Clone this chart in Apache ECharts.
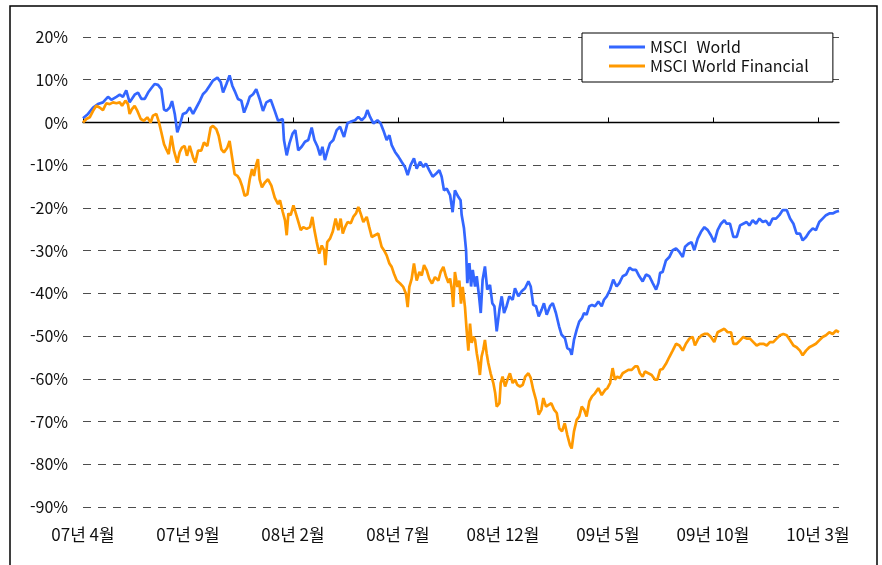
<!DOCTYPE html>
<html lang="ko">
<head>
    <meta charset="UTF-8">
    <title>MSCI World vs MSCI World Financial</title>
    <style>
        html, body { margin: 0; padding: 0; background: #fff; }
        #chart { width: 882px; height: 565px; }
    </style>
</head>
<body>
<div id="chart"></div>

<script type="text/javascript" src="https://cdn.jsdelivr.net/npm/echarts@6/dist/echarts.min.js"></script>
<script>
    // x = months since 2007-04
    var xTickValues = [0, 5, 10, 15, 20, 25, 30, 35];
    var xTickLabels = ['07년 4월', '07년 9월', '08년 2월', '08년 7월', '08년 12월', '09년 5월', '09년 10월', '10년 3월'];

    var worldT = [0.00,0.24,0.48,0.71,0.95,1.19,1.35,1.59,1.75,1.90,2.06,2.22,2.46,2.62,2.78,2.94,3.10,3.25,3.41,3.57,3.73,3.86,3.97,4.13,4.24,4.37,4.49,4.60,4.76,4.92,5.08,5.24,5.40,5.56,5.71,5.87,6.03,6.19,6.40,6.56,6.67,6.83,6.98,7.11,7.22,7.38,7.54,7.67,7.83,7.94,8.10,8.25,8.41,8.57,8.73,8.94,9.13,9.29,
        9.38,9.51,9.57,9.70,9.83,9.98,10.11,10.25,10.41,10.57,10.73,10.89,11.02,11.17,11.29,11.40,11.52,11.63,11.76,11.92,12.08,12.24,12.43,12.59,12.75,12.95,13.11,13.27,13.43,13.54,13.67,13.83,14.02,14.17,14.30,14.46,14.59,14.70,14.86,15.02,15.17,15.33,15.46,15.60,15.76,15.89,16.05,16.21,16.33,16.49,16.65,16.81,16.97,17.08,17.19,17.32,17.48,17.60,17.71,17.87,17.98,
        18.03,18.14,18.24,18.30,18.40,18.48,18.56,18.67,18.75,18.86,18.94,19.03,19.14,19.25,19.38,19.49,19.59,19.70,19.83,19.94,20.05,20.17,20.30,20.46,20.57,20.73,20.89,21.05,21.21,21.32,21.44,21.57,21.70,21.84,21.95,22.08,22.24,22.37,22.52,22.67,22.79,22.95,23.06,23.19,23.27,23.38,23.51,23.63,23.76,23.86,23.98,24.11,24.24,24.38,24.54,24.70,24.81,24.94,25.10,25.25,25.41,25.54,25.70,25.86,26.02,26.17,26.33,26.49,26.65,26.81,26.97,27.13,27.29,27.40,27.48,
        27.60,27.76,27.92,28.08,28.24,28.40,28.56,28.67,28.83,28.98,29.11,29.27,29.43,29.59,29.75,29.90,30.06,30.22,30.38,30.54,30.65,30.81,30.97,31.13,31.29,31.44,31.60,31.73,31.89,32.05,32.21,32.37,32.52,32.68,32.84,33.00,33.16,33.32,33.51,33.67,33.83,33.98,34.14,34.27,34.43,34.59,34.75,34.90,35.06,35.22,35.38,35.54,35.70,35.86,36.00];
    var worldV = [1.0,2.0,3.5,4.3,4.7,6.0,5.3,6.0,6.5,6.0,7.5,4.7,6.5,7.0,5.5,5.5,7.0,8.0,9.0,8.8,7.8,3.0,2.7,3.5,5.0,2.0,-2.3,-0.8,2.0,2.3,3.5,2.0,3.5,5.0,6.6,7.4,8.6,9.8,10.5,9.4,7.0,9.0,11.0,8.6,7.4,5.5,5.1,2.3,4.3,6.0,6.6,7.8,5.5,2.7,4.7,5.3,2.7,0.4,
        0.5,0.8,-4.1,-7.7,-4.9,-2.6,-1.8,-6.5,-5.7,-4.5,-4.1,-1.2,-4.1,-5.7,-7.7,-5.7,-8.8,-6.9,-4.9,-4.1,-1.8,-1.0,-3.4,-0.2,0.2,0.5,1.3,0.5,1.3,2.9,1.3,-0.2,0.5,-0.2,-1.8,-4.1,-3.0,-5.3,-6.9,-8.0,-9.2,-10.4,-12.3,-10.0,-8.4,-10.8,-9.2,-10.4,-9.6,-11.2,-12.7,-12.0,-11.2,-12.7,-15.9,-15.5,-17.0,-21.0,-15.9,-17.4,-18.2,
        -21.6,-24.7,-29.8,-37.6,-32.9,-38.4,-34.5,-38.4,-36.0,-40.7,-44.6,-36.8,-33.7,-39.1,-38.0,-42.3,-43.0,-48.9,-43.8,-40.7,-44.6,-43.0,-40.7,-41.5,-38.8,-40.7,-39.5,-38.8,-37.2,-38.4,-42.7,-43.0,-45.4,-43.8,-42.3,-45.0,-43.0,-42.3,-44.6,-47.7,-49.7,-50.5,-52.8,-53.2,-54.4,-50.9,-48.5,-46.6,-45.8,-44.6,-45.0,-43.0,-42.7,-43.0,-41.9,-43.0,-41.5,-40.7,-39.1,-36.8,-38.4,-37.6,-36.0,-35.6,-34.0,-34.5,-34.5,-36.0,-37.2,-35.6,-36.0,-37.6,-39.1,-37.6,-35.2,
        -35.0,-32.3,-31.5,-29.9,-29.5,-30.3,-31.5,-29.1,-28.4,-28.0,-29.9,-27.2,-25.6,-24.5,-25.2,-26.4,-28.0,-25.2,-23.7,-22.9,-23.7,-23.7,-26.8,-26.8,-24.1,-23.7,-23.3,-24.1,-22.9,-23.7,-22.5,-23.3,-23.0,-24.1,-22.5,-22.5,-21.7,-20.5,-20.5,-22.5,-23.7,-26.0,-26.0,-27.6,-26.8,-25.6,-24.8,-25.2,-23.3,-22.5,-21.7,-21.3,-21.3,-20.9,-20.7];

    var finT = [0.00,0.16,0.32,0.48,0.63,0.79,0.95,1.11,1.27,1.43,1.59,1.75,1.86,2.02,2.14,2.22,2.33,2.46,2.59,2.75,2.90,3.06,3.22,3.33,3.49,3.62,3.73,3.86,3.97,4.08,4.21,4.33,4.49,4.60,4.71,4.84,4.95,5.08,5.24,5.35,5.48,5.63,5.76,5.92,6.08,6.19,6.35,6.46,6.59,6.71,6.87,6.98,7.10,7.22,7.35,7.46,7.57,7.70,7.83,7.94,8.05,8.14,8.25,8.33,8.41,8.52,8.65,8.81,8.97,9.13,9.29,
        9.38,9.51,9.62,9.70,9.78,9.89,10.02,10.10,10.21,10.37,10.49,10.65,10.81,10.92,11.02,11.13,11.25,11.37,11.48,11.54,11.63,11.76,11.89,12.03,12.16,12.27,12.37,12.48,12.60,12.75,12.87,13.00,13.11,13.22,13.35,13.51,13.63,13.75,13.90,14.06,14.22,14.33,14.46,14.59,14.70,14.81,14.94,15.10,15.25,15.38,15.46,15.54,15.65,15.76,15.89,16.02,16.13,16.24,16.37,16.49,16.62,16.76,16.92,17.03,17.16,17.27,17.40,17.48,17.56,17.63,17.71,17.83,17.92,18.00,18.08,18.19,18.27,18.35,18.43,
        18.51,18.59,18.67,18.75,18.83,18.90,18.98,19.06,19.14,19.22,19.30,19.41,19.54,19.63,19.70,19.83,19.89,19.98,20.10,20.21,20.33,20.46,20.57,20.68,20.81,20.94,21.06,21.21,21.32,21.44,21.57,21.70,21.83,21.92,22.05,22.17,22.30,22.43,22.56,22.68,22.81,22.94,23.06,23.19,23.27,23.38,23.51,23.63,23.75,23.86,23.98,24.11,24.24,24.38,24.54,24.70,24.86,24.97,25.10,25.22,25.33,25.44,25.57,25.70,25.83,25.97,26.13,26.29,26.41,26.52,26.65,26.76,26.92,27.08,27.24,27.35,27.48,
        27.60,27.76,27.92,28.08,28.24,28.40,28.56,28.71,28.87,29.03,29.14,29.30,29.46,29.59,29.75,29.90,30.06,30.22,30.38,30.54,30.70,30.86,30.97,31.13,31.29,31.44,31.60,31.76,31.92,32.08,32.24,32.40,32.56,32.71,32.87,33.03,33.19,33.35,33.51,33.67,33.83,33.98,34.14,34.27,34.43,34.59,34.75,34.90,35.06,35.22,35.38,35.54,35.70,35.86,36.00];
    var finV = [0.0,0.8,1.2,2.7,3.9,3.5,2.9,4.5,4.3,4.7,4.5,4.7,3.9,5.1,4.3,2.0,3.1,3.9,2.7,0.8,0.4,1.2,0.0,1.6,2.0,0.0,-2.3,-5.1,-6.3,-7.4,-3.1,-6.6,-9.4,-7.0,-5.9,-5.5,-7.8,-5.5,-8.2,-9.4,-6.6,-6.6,-4.7,-5.5,-1.2,-0.8,-1.6,-3.1,-6.3,-7.0,-5.9,-4.3,-8.2,-12.1,-12.5,-13.3,-14.8,-17.2,-16.8,-13.3,-10.9,-12.5,-9.8,-8.6,-13.3,-15.2,-14.1,-13.3,-14.8,-17.6,-19.1,
        -18.2,-20.9,-22.9,-26.4,-21.3,-21.7,-19.4,-19.0,-22.5,-25.2,-24.5,-24.9,-24.5,-22.1,-25.2,-28.0,-30.7,-28.8,-29.9,-33.4,-28.0,-27.2,-25.6,-22.5,-25.2,-22.5,-26.0,-24.5,-23.3,-23.6,-22.1,-21.3,-19.8,-21.3,-23.3,-22.1,-24.5,-26.8,-26.4,-26.0,-29.1,-29.9,-31.1,-33.0,-33.8,-35.4,-37.0,-37.7,-38.5,-40.1,-43.2,-38.5,-36.6,-33.0,-37.0,-35.0,-35.8,-33.4,-34.6,-36.6,-37.7,-36.2,-37.0,-35.0,-33.8,-35.8,-37.5,-36.5,-38.9,-43.2,-35.0,-38.5,-37.0,-42.4,-38.5,-43.2,-48.7,-53.4,-47.1,
        -51.6,-50.1,-50.9,-54.0,-56.3,-59.1,-54.8,-53.2,-50.9,-54.0,-56.3,-58.7,-61.0,-63.4,-66.5,-65.7,-61.0,-59.5,-61.8,-60.2,-58.7,-61.0,-60.2,-61.4,-61.8,-61.4,-59.5,-58.7,-59.8,-62.6,-64.9,-68.4,-67.2,-64.5,-66.5,-66.1,-65.7,-67.2,-68.0,-71.6,-72.3,-70.4,-73.1,-75.5,-76.3,-72.3,-69.6,-68.8,-66.5,-67.2,-68.8,-65.3,-64.1,-63.4,-62.2,-63.8,-62.6,-62.2,-61.0,-57.5,-60.2,-59.5,-59.8,-58.7,-58.3,-57.9,-57.9,-57.1,-57.1,-58.7,-59.5,-58.3,-58.7,-59.1,-60.2,-60.2,-57.9,
        -57.7,-56.5,-54.9,-53.4,-51.8,-52.2,-53.4,-51.8,-50.6,-50.2,-52.2,-50.6,-49.8,-49.5,-49.5,-50.2,-51.4,-49.1,-48.7,-48.3,-49.1,-49.1,-51.8,-51.8,-51.0,-50.2,-50.6,-50.6,-51.4,-52.2,-51.8,-51.8,-52.2,-51.4,-51.4,-50.6,-49.8,-49.5,-49.8,-51.0,-52.2,-52.6,-53.4,-54.5,-53.4,-52.6,-52.2,-51.8,-51.0,-50.2,-49.8,-49.1,-49.5,-48.7,-49.1];

    var FONT = "'Noto Sans CJK KR', 'Noto Sans', sans-serif";

    function pairs(t, v) {
        var out = [];
        for (var i = 0; i < Math.min(t.length, v.length); i++) {
            out.push([t[i], v[i]]);
        }
        return out;
    }

    var chart = echarts.init(document.getElementById('chart'), null, {renderer: 'canvas'});

    var option = {
        backgroundColor: '#fff',
        animation: false,
        textStyle: {fontFamily: FONT},
        graphic: [{
            type: 'rect',
            z: -1,
            shape: {x: 10, y: 6, width: 867, height: 620},
            style: {fill: null, stroke: '#000', lineWidth: 1.5}
        }],
        grid: {left: 83, right: 43, top: 37, bottom: 58},
        legend: {
            orient: 'vertical',
            left: 582,
            top: 33,
            padding: [6, 26, 8, 27],
            icon: 'path://M0,0 L36,0 L36,3 L0,3 Z',
            itemWidth: 36,
            itemHeight: 3,
            itemGap: 3,
            borderColor: '#000',
            borderWidth: 1,
            backgroundColor: '#fff',
            textStyle: {fontSize: 16, lineHeight: 16, color: '#111', fontFamily: FONT},
            data: ['MSCI  World', 'MSCI World Financial']
        },
        xAxis: [{
            // axis line and ticks drawn on the 0% line
            type: 'value',
            min: 0,
            max: 36,
            axisLine: {onZero: true, lineStyle: {color: '#000', width: 1.3}},
            axisTick: {show: true, inside: true, length: 5, customValues: xTickValues, lineStyle: {color: '#000', width: 1}},
            axisLabel: {show: false},
            splitLine: {show: false}
        }, {
            // labels along the bottom
            type: 'value',
            min: 0,
            max: 36,
            position: 'bottom',
            axisLine: {show: false},
            axisTick: {show: false},
            splitLine: {show: false},
            axisLabel: {
                show: true,
                customValues: xTickValues,
                margin: 19,
                fontSize: 17,
                color: '#111',
                fontFamily: FONT,
                formatter: function (val) {
                    var i = xTickValues.indexOf(val);
                    return i >= 0 ? xTickLabels[i] : '';
                }
            }
        }],
        yAxis: {
            type: 'value',
            min: -90,
            max: 20,
            interval: 10,
            axisLine: {show: false},
            axisTick: {show: false},
            axisLabel: {
                margin: 15,
                fontSize: 16,
                color: '#111',
                fontFamily: FONT,
                formatter: function (v) { return v + '%'; }
            },
            splitLine: {show: true, lineStyle: {color: '#4d4d4d', width: 1, type: [8, 7]}}
        },
        series: [{
            name: 'MSCI  World',
            type: 'line',
            xAxisIndex: 0,
            symbol: 'none',
            color: '#3366ff',
            lineStyle: {width: 2.7, color: '#3366ff'},
            data: pairs(worldT, worldV)
        }, {
            name: 'MSCI World Financial',
            type: 'line',
            xAxisIndex: 0,
            symbol: 'none',
            color: '#ff9900',
            lineStyle: {width: 2.7, color: '#ff9900'},
            data: pairs(finT, finV)
        }]
    };

    chart.setOption(option);
</script>
</body>
</html>
